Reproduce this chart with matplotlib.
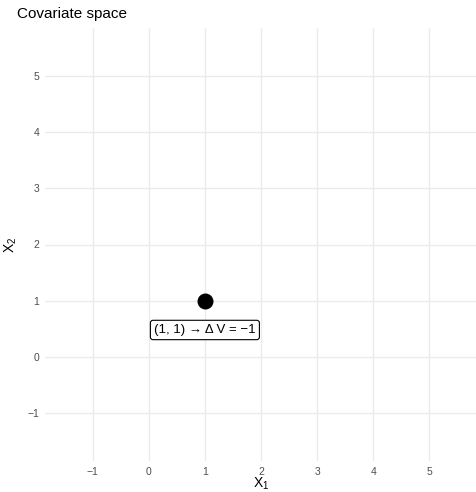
import matplotlib
matplotlib.use("Agg")
import matplotlib.pyplot as plt

plt.rcParams['font.family'] = ['Liberation Sans', 'DejaVu Sans']
plt.rcParams['mathtext.fontset'] = 'custom'
plt.rcParams['mathtext.rm'] = 'Liberation Sans'
plt.rcParams['mathtext.it'] = 'Liberation Sans'

point_x = [1]
point_y = [1]
label_x = 1
label_y = 0.48
label_text = "(1, 1) → Δ V = −1"
ticks = [-1, 0, 1, 2, 3, 4, 5]
tick_labels = ["−1", "0", "1", "2", "3", "4", "5"]

W, H = 477, 492
fig = plt.figure(figsize=(W/100, H/100), dpi=100)
ax = fig.add_axes([45/W, 1-461/H, (477-45)/W, (461-28)/H])
ax.set_xlim(-1.85, 5.85)
ax.set_ylim(-1.85, 5.85)
for s in ax.spines.values():
    s.set_visible(False)
ax.set_xticks(ticks)
ax.set_xticklabels(tick_labels)
ax.set_yticks(ticks)
ax.set_yticklabels(tick_labels)
ax.tick_params(length=0, labelsize=7.5, colors='#4D4D4D', pad=4)
ax.grid(True, color='#EBEBEB', linewidth=1.0)
ax.set_axisbelow(True)

ax.scatter(point_x, point_y, s=110, color='black', zorder=3)
ax.text(label_x, label_y, label_text, ha='center', va='center', fontsize=9.5,
        bbox=dict(boxstyle='round,pad=0.28,rounding_size=0.2', fc='white', ec='black', lw=0.8), zorder=4)

ax.set_xlabel("X$_{1}$", fontsize=10, labelpad=-1)
ax.set_ylabel("X$_{2}$", fontsize=10, labelpad=6)
fig.text(17/W, 1-14/H, "Covariate space", fontsize=11, va='center', ha='left')

fig.savefig("out.png", dpi=100)
